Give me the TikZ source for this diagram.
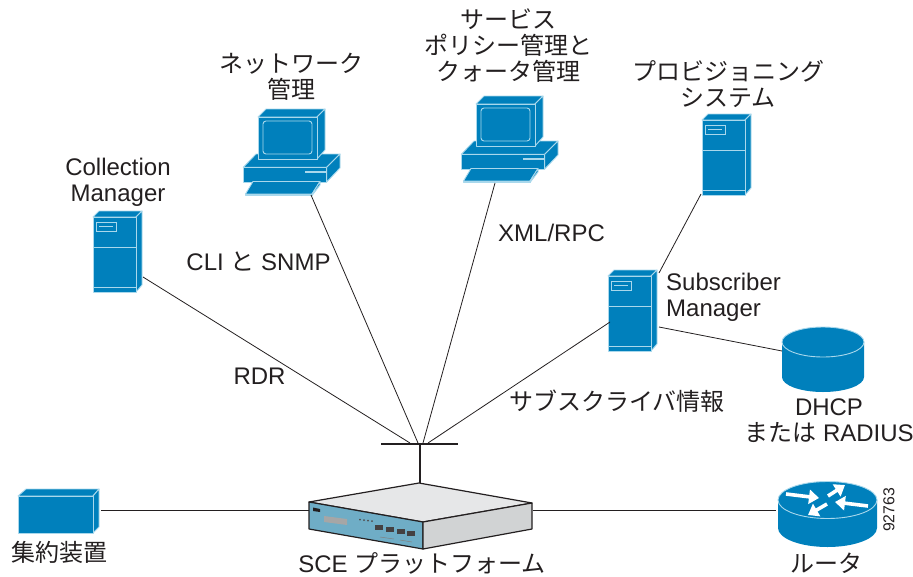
\documentclass[tikz,border=0pt]{standalone}
\usepackage{fontspec}
\setmainfont{Liberation Sans}
\newfontfamily\jp{Noto Sans CJK JP}
\usetikzlibrary{arrows.meta}
\definecolor{iconblue}{HTML}{0080BC}
\definecolor{iconline}{HTML}{A9D8EC}
\definecolor{inkdark}{HTML}{231F20}
\definecolor{scefront}{HTML}{6FADC6}
\definecolor{scetop}{HTML}{E6E7E8}
\definecolor{sceside}{HTML}{D1D3D4}
\tikzset{
  label/.style={text=inkdark,inner sep=0pt,align=center,font=\fontsize{24}{26}\selectfont},
  link/.style={draw=inkdark,line width=0.8pt},
  hubbar/.style={draw=inkdark,line width=2.6pt},
  face/.style={fill=iconblue,draw=iconline,line width=0.9pt,line join=round},
  inner/.style={draw=iconline,line width=0.9pt},
  routerarrow/.style={white,line width=3.6pt,-{Triangle[length=10pt,width=14pt]}},
  scebody/.style={draw=inkdark,line width=1.2pt,line join=round},
  serverbox/.pic={
    \path[face] (0,0) -- (6,-6) -- (49,-6) -- (43,0) -- cycle;
    \path[face] (43,0) -- (49,-6) -- (49,68) -- (43,75) -- cycle;
    \path[face] (0,0) rectangle (43,75);
    \draw[inner] (0,30) -- (43,30);
    \draw[inner] (0,70) -- (43,70);
    \draw[inner] (3,5) rectangle (23,14);
    \draw[inner] (6,9.5) -- (20,9.5);
  },
  pcbox/.pic={
    \path[face] (-14.7,50.3) -- (-2,37) -- (82,37) -- (68.7,50.3) -- cycle;
    \path[face] (68.7,50.3) -- (82,37) -- (82,51) -- (68.7,65) -- cycle;
    \path[face] (-14.7,50.3) rectangle (68.7,65);
    \draw[inner,line width=1.4pt] (47,55) -- (68,55);
    \path[face] (0,0) -- (8,-8) -- (67,-8) -- (59,0) -- cycle;
    \path[face] (59,0) -- (67,-8) -- (67,33) -- (59,42) -- cycle;
    \path[face] (0,0) rectangle (59,42);
    \draw[inner,rounded corners=3pt] (5,4) rectangle (54,37);
    \path[face] (-12.5,77) -- (-5,64.5) -- (62,64.5) -- (54,77) -- cycle;
    \path[face] (54,77) -- (62,64.5) -- (62,68) -- (54,78.5) -- cycle;
    \path[face] (-12.5,77) rectangle (54,78.5);
  }
}
\begin{document}
\begin{tikzpicture}[x=1pt,y=-1pt]
\useasboundingbox (0,0) rectangle (913,576);

\pic (cmbox) at (93,217) {serverbox};
\pic (provbox) at (702,120) {serverbox};
\pic (smbox) at (608,276) {serverbox};
\pic (netbox) at (258,117) {pcbox};
\pic (svcbox) at (476,104) {pcbox};

\path[face] (18,496) -- (26,489) -- (99,489) -- (93,496) -- cycle;
\path[face] (93,496) -- (99,489) -- (99,527) -- (93,533) -- cycle;
\path[face] (18,496) rectangle (93,533);

\path[fill=iconblue] (782,342) -- (782,377) arc[start angle=180,end angle=0,x radius=41,y radius=15] -- (864,342) -- cycle;
\path[face] (782,342) arc[start angle=180,end angle=540,x radius=41,y radius=15];

\path[fill=iconblue] (778,500) -- (778,528) arc[start angle=180,end angle=0,x radius=49.5,y radius=19] -- (877,500) -- cycle;
\path[face] (778,500) arc[start angle=180,end angle=540,x radius=49.5,y radius=18.5];
\draw[routerarrow] (786,494) -- (819,498);
\draw[routerarrow] (828,496) -- (845,485);
\draw[routerarrow] (868,506) -- (835,502);
\draw[routerarrow] (827,504) -- (808,515);

\path[fill=scetop,scebody] (309,502) -- (419,483) -- (532,503) -- (423,522) -- cycle;
\path[fill=scefront,scebody] (309,502) -- (423,522) -- (423,549) -- (309,529) -- cycle;
\path[fill=sceside,scebody] (423,522) -- (532,503) -- (532,529) -- (423,549) -- cycle;
\fill[inkdark] (313,507.5) -- (320,509) -- (320,512) -- (313,511) -- cycle;
\fill[gray!70] (324,516) -- (347,519) -- (347,525) -- (324,522) -- cycle;
\foreach \x/\y in {360/519.5,364/520,368/520.5,372/521}
  \fill[inkdark!80] (\x,\y) circle (1pt);
\foreach \x/\y in {379.3/527.3,390/529,400.7/531,410.7/533}
  \fill[inkdark!85] (\x-4,\y-2.5) rectangle (\x+4,\y+2.5);
\draw[gray,line width=0.5pt] (380,537) -- (394,539);
\draw[gray,line width=0.5pt] (400,540) -- (412,542);

\coordinate (hubwest) at (381,444);
\coordinate (hubeast) at (458,444);
\coordinate (hubtop) at (420,444);
\coordinate (hubfoot) at (420,483);
\draw[hubbar] (hubwest) -- (hubeast);
\draw[hubbar] (hubtop) -- (hubfoot);

\coordinate (cmport) at (143,277);
\coordinate (netport) at (311,195);
\coordinate (svcport) at (495,183);
\coordinate (smport) at (610,322);
\coordinate (provport) at (701,194);
\coordinate (smtop) at (659,273);
\coordinate (smside) at (659,327);
\coordinate (dbport) at (782,351);
\coordinate (edgeport) at (101,510);
\coordinate (scewest) at (309,510);
\coordinate (sceeast) at (533,510);
\coordinate (routerport) at (776,510);
\coordinate (huba) at (410,443);
\coordinate (hubb) at (418,443);
\coordinate (hubc) at (423,443);
\coordinate (hubd) at (428,443);

\draw[link] (cmport) -- (huba);
\draw[link] (netport) -- (hubb);
\draw[link] (svcport) -- (hubc);
\draw[link] (smport) -- (hubd);
\draw[link] (provport) -- (smtop);
\draw[link] (smside) -- (dbport);
\draw[link] (edgeport) -- (scewest);
\draw[link] (sceeast) -- (routerport);

\node[label] (cmlabel) at (118,182) {Collection\\Manager};
\node[label] (netlabel) at (291,76.5) {{\jp ネットワーク}\\{\jp 管理}};
\node[label] (svclabel) at (508,46) {{\jp サービス}\\{\jp ポリシー管理と}\\{\jp クォータ管理}};
\node[label] (provlabel) at (728,84) {{\jp プロビジョニング}\\{\jp システム}};
\node[label] (clilabel) at (258.5,261) {CLI {\jp と} SNMP};
\node[label] (xmllabel) at (551.5,233) {XML/RPC};
\node[label] (rdrlabel) at (259.5,376) {RDR};
\node[label] (sublabel) at (617,401) {\jp サブスクライバ情報};
\node[label,align=left,anchor=west] (smlabel) at (666,297) {Subscriber\\Manager};
\node[label] (dblabel) at (829,421) {DHCP\\{\jp または} RADIUS};
\node[label] (scelabel) at (422,563) {SCE {\jp プラットフォーム}};
\node[label] (edgelabel) at (60,552) {\jp 集約装置};
\node[label] (routerlabel) at (826,563) {\jp ルータ};
\node[label,font=\fontsize{15.8}{18}\selectfont,rotate=90] (figno) at (889,510) {92763};
\end{tikzpicture}
\end{document}
